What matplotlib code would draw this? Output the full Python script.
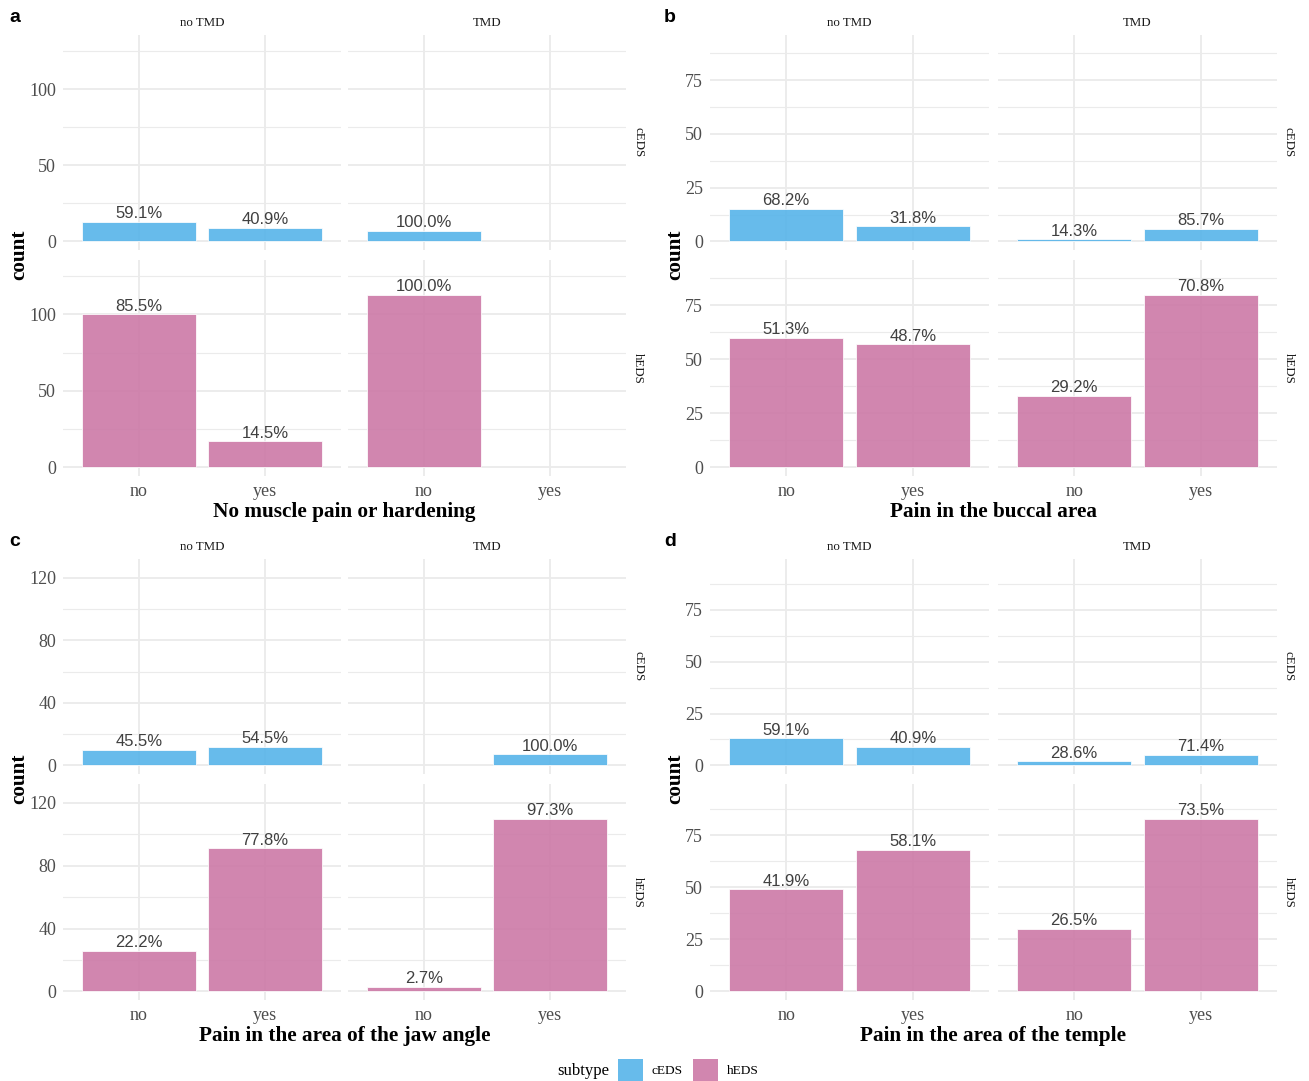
import matplotlib
matplotlib.use("Agg")
import matplotlib.pyplot as plt
from matplotlib.patches import Rectangle

# ---- data: counts per subtype, rows = [no TMD, TMD], cols = [no, yes] ----
categories = ["no", "yes"]
tmd_groups = ["no TMD", "TMD"]
subtypes = ["cEDS", "hEDS"]

muscle_ceds = [[13, 9], [7, 0]]
muscle_heds = [[100, 17], [113, 0]]

buccal_ceds = [[15, 7], [1, 6]]
buccal_heds = [[60, 57], [33, 80]]

jaw_ceds = [[10, 12], [0, 7]]
jaw_heds = [[26, 91], [3, 110]]

temple_ceds = [[13, 9], [2, 5]]
temple_heds = [[49, 68], [30, 83]]

panel_letters = ["a", "b", "c", "d"]
panel_titles = ["No muscle pain or hardening", "Pain in the buccal area",
                "Pain in the area of the jaw angle", "Pain in the area of the temple"]
panel_ticks = [[0, 50, 100], [0, 25, 50, 75], [0, 40, 80, 120], [0, 25, 50, 75]]

# ---- style ----
W, H = 1309, 1081
SERIF = ["Liberation Serif", "DejaVu Serif"]
SANS = ["Liberation Sans", "DejaVu Sans"]
colors = {"cEDS": "#56B4E9", "hEDS": "#CC79A7"}
GRID = "#EBEBEB"

fig = plt.figure(figsize=(W / 100, H / 100), dpi=100)
fig.patch.set_facecolor("white")


def px_axes(x0, y0, x1, y1):
    return fig.add_axes([x0 / W, 1 - y1 / H, (x1 - x0) / W, (y1 - y0) / H])


def fx(x):
    return x / W


def fy(y):
    return 1 - y / H


panels = [
    (muscle_ceds, muscle_heds),
    (buccal_ceds, buccal_heds),
    (jaw_ceds, jaw_heds),
    (temple_ceds, temple_heds),
]

left_cols = [(63, 341), (348, 626)]
right_cols = [(710, 989), (998, 1277)]
base_rows = [(35, 250), (260, 476)]

for p, (ceds, heds) in enumerate(panels):
    right = p % 2 == 1
    oy = 524 if p >= 2 else 0
    cols = right_cols if right else left_cols
    rows = [(r0 + oy, r1 + oy) for r0, r1 in base_rows]
    data = {"cEDS": ceds, "hEDS": heds}
    vmax = max(max(max(g) for g in ceds), max(max(g) for g in heds))
    ylo, yhi = -0.05 * vmax, 1.2 * vmax
    ticks = panel_ticks[p]
    step = ticks[1] - ticks[0]
    minor = [t + step / 2 for t in ticks]

    for ri, st in enumerate(subtypes):
        for ci, grp in enumerate(tmd_groups):
            (x0, x1), (y0, y1) = cols[ci], rows[ri]
            ax = px_axes(x0, y0, x1, y1)
            counts = data[st][ci]
            total = sum(counts)
            xs = list(range(len(categories)))
            for xi, c in zip(xs, counts):
                if c <= 0:
                    continue
                ax.bar(xi, c, width=0.9, color=colors[st], alpha=0.9,
                       edgecolor="white", linewidth=0.6, zorder=3)
                ax.annotate(f"{100 * c / total:.1f}%", (xi, c), xytext=(0, 0.5),
                            textcoords="offset points", ha="center", va="bottom",
                            fontsize=12, family=SANS, color="#404040", zorder=4)
            ax.set_xticks(xs)
            ax.set_yticks(ticks)
            ax.set_yticks(minor, minor=True)
            ax.set_xlim(-0.6, 1.6)
            ax.set_ylim(ylo, yhi)
            ax.set_axisbelow(True)
            ax.grid(which="major", color=GRID, linewidth=1.3)
            ax.grid(which="minor", axis="y", color=GRID, linewidth=0.8)
            for s in ax.spines.values():
                s.set_visible(False)
            ax.tick_params(which="both", length=0, pad=5, labelcolor="#4D4D4D",
                           labelsize=13)
            if ri == 1:
                ax.set_xticklabels(categories, family=SERIF)
            else:
                ax.set_xticklabels([])
            if ci == 0:
                ax.set_yticklabels([str(t) for t in ticks], family=SERIF)
            else:
                ax.set_yticklabels([])
            ax.set_facecolor("none")

            # column strips
            if ri == 0:
                fig.text(fx((x0 + x1) / 2), fy(y0 - 12), grp, ha="center", va="center",
                         fontsize=9.3, family=SERIF, color="#1A1A1A")
            # row strips
            if ci == 1:
                fig.text(fx(x1 + 12), fy((y0 + y1) / 2), st, ha="center", va="center",
                         rotation=270, fontsize=9.3, family=SERIF, color="#1A1A1A")

    cx = (cols[0][0] + cols[1][1]) / 2
    fig.text(fx(cx), fy(oy + 512), panel_titles[p], ha="center", va="center",
             fontsize=15.3, fontweight="bold", family=SERIF)
    lx = 675 if right else 19
    fig.text(fx(lx), fy(oy + 255), "count", ha="center", va="center", rotation=90,
             fontsize=15.3, fontweight="bold", family=SERIF)
    fig.text(fx(670 if right else 15), fy(oy + 18), panel_letters[p], ha="center",
             va="center", fontsize=14, fontweight="bold", family=SANS)

# ---- legend ----
fig.text(fx(557), fy(1071), "subtype", ha="left", va="center", fontsize=12, family=SERIF)
key_x = [618, 693]
for kx, st in zip(key_x, subtypes):
    fig.patches.append(Rectangle((fx(kx), fy(1083)), 25 / W, 24 / H,
                                 transform=fig.transFigure, facecolor=colors[st],
                                 alpha=0.9, edgecolor="none"))
    fig.text(fx(kx + 34), fy(1071), st, ha="left", va="center", fontsize=9.6,
             family=SERIF)

fig.savefig("out.png", dpi=100, facecolor="white")
